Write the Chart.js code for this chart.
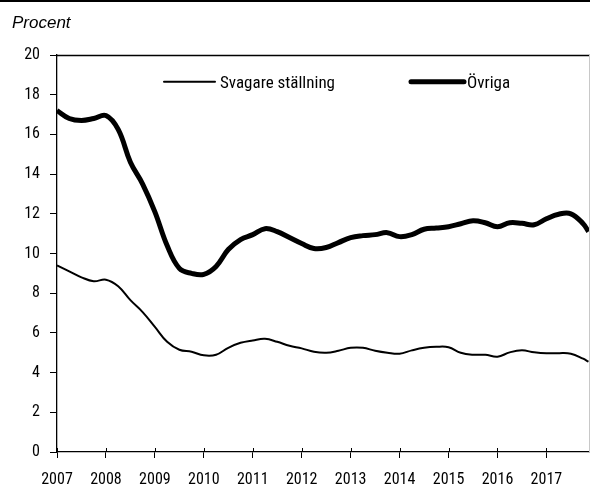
<!DOCTYPE html>
<html><head><meta charset="utf-8">
<script src="https://cdn.jsdelivr.net/npm/chart.js@4/dist/chart.umd.min.js"></script>
<style>
html,body{margin:0;padding:0;background:#fff;}
#wrap{position:relative;width:590px;height:486px;overflow:hidden;}
#topbar{position:absolute;left:0;top:0;width:590px;height:2px;background:#000;}
#unit{position:absolute;left:12px;top:13px;font:italic 17px "Liberation Sans",Arial,sans-serif;color:#000;line-height:20px;}
canvas{position:absolute;left:0;top:0;}
</style></head><body>
<div id="wrap"><canvas id="c" width="590" height="486"></canvas><div id="topbar"></div><div id="unit">Procent</div></div>
<script>
// Sample positions (decimal years)
const periods = [2007.00,2007.25,2007.50,2007.75,2008.00,2008.25,2008.50,2008.75,2009.00,2009.25,2009.50,2009.75,
  2010.00,2010.25,2010.50,2010.75,2011.00,2011.25,2011.50,2011.75,2012.00,2012.25,2012.50,2012.75,
  2013.00,2013.25,2013.50,2013.75,2014.00,2014.25,2014.50,2014.75,2015.00,2015.25,2015.50,2015.75,
  2016.00,2016.25,2016.50,2016.75,2017.00,2017.25,2017.50,2017.75,2017.86];
const svagare = [9.4,9.1,8.8,8.6,8.68,8.35,7.65,7.05,6.3,5.55,5.15,5.05,
  4.87,4.9,5.25,5.5,5.62,5.7,5.55,5.35,5.22,5.05,5.0,5.1,
  5.25,5.25,5.1,5.0,4.95,5.12,5.25,5.3,5.28,5.0,4.9,4.9,
  4.8,5.02,5.12,5.02,4.97,4.98,4.95,4.7,4.55];
const ovriga = [17.2,16.8,16.7,16.8,16.95,16.25,14.6,13.5,12.1,10.4,9.25,9.0,
  8.95,9.35,10.2,10.7,10.95,11.25,11.1,10.8,10.5,10.25,10.3,10.55,
  10.8,10.9,10.95,11.05,10.85,10.95,11.22,11.28,11.35,11.5,11.65,11.55,
  11.35,11.55,11.52,11.45,11.75,11.98,12.0,11.5,11.1];
const seriesNames = ["Svagare ställning","Övriga"];
const yearTicks = [2007,2008,2009,2010,2011,2012,2013,2014,2015,2016,2017];
const yTicks = [0,2,4,6,8,10,12,14,16,18,20];

const FONT = '"Roboto Condensed","Liberation Sans Narrow",Arial,sans-serif';

const framePlugin = {
  id:'frame',
  afterDraw(chart){
    const {ctx, chartArea:a} = chart;
    ctx.save();
    ctx.strokeStyle='#000'; ctx.lineWidth=1.3;
    ctx.beginPath(); ctx.moveTo(a.left, a.top+0.5); ctx.lineTo(590, a.top+0.5); ctx.stroke();
    ctx.strokeStyle='#c8c8c8'; ctx.lineWidth=1;
    ctx.beginPath(); ctx.moveTo(a.right+0.5, a.top); ctx.lineTo(a.right+0.5, a.bottom); ctx.stroke();
    const xs = chart.scales.x;
    ctx.strokeStyle='#000'; ctx.lineWidth=1;
    xs.ticks.forEach(t=>{
      const px = Math.round(xs.getPixelForValue(t.value))+0.5;
      ctx.beginPath(); ctx.moveTo(px, a.bottom-4); ctx.lineTo(px, a.bottom); ctx.stroke();
    });
    ctx.restore();
  }
};

const legendPlugin = {
  id:'inlineLegend',
  afterDraw(chart, args, opts){
    const ctx = chart.ctx;
    ctx.save();
    ctx.font = opts.fontSize + 'px ' + FONT;
    ctx.fillStyle = '#000';
    ctx.textBaseline = 'alphabetic';
    chart.data.datasets.forEach((ds,i)=>{
      const it = opts.items[i];
      ctx.strokeStyle = ds.borderColor;
      ctx.lineWidth = ds.borderWidth;
      ctx.lineCap = 'round';
      ctx.beginPath(); ctx.moveTo(it.x1, opts.lineY); ctx.lineTo(it.x2, opts.lineY); ctx.stroke();
      ctx.fillText(ds.label, it.tx, opts.textY);
    });
    ctx.restore();
  }
};

new Chart(document.getElementById('c'), {
  type:'line',
  data:{
    datasets:[
      {label:seriesNames[0], data:periods.map((p,i)=>({x:p,y:svagare[i]})), borderColor:'#000', borderWidth:2, pointRadius:0, fill:false},
      {label:seriesNames[1], data:periods.map((p,i)=>({x:p,y:ovriga[i]})), borderColor:'#000', borderWidth:5, pointRadius:0, fill:false}
    ]
  },
  options:{
    responsive:false, animation:false,
    layout:{padding:{top:55,right:1,left:0,bottom:0}},
    elements:{line:{tension:0.4, borderCapStyle:'butt', borderJoinStyle:'round'}},
    plugins:{
      legend:{display:false}, tooltip:{enabled:false},
      inlineLegend:{fontSize:17, lineY:81.7, textY:88.3,
        items:[{x1:164,x2:215,tx:220},{x1:411,x2:464,tx:467}]}
    },
    scales:{
      x:{type:'linear', min:2007, max:2017.87,
        afterBuildTicks(s){ s.ticks = yearTicks.map(v=>({value:v})); },
        afterFit(s){ s.height = 34; },
        ticks:{callback:v=>String(v), font:{family:FONT,size:16}, color:'#000', maxRotation:0, autoSkip:false, padding:12},
        grid:{display:true, drawOnChartArea:false, drawTicks:true, tickLength:6, color:'#000', lineWidth:1},
        border:{display:true, color:'#000', width:1.3}
      },
      y:{min:0, max:20,
        afterBuildTicks(s){ s.ticks = yTicks.map(v=>({value:v})); },
        afterFit(s){ s.width = 57; },
        ticks:{font:{family:FONT,size:16}, color:'#000', padding:10},
        grid:{display:true, drawOnChartArea:false, drawTicks:true, tickLength:7, color:'#000', lineWidth:1},
        border:{display:true, color:'#000', width:1.3}
      }
    }
  },
  plugins:[framePlugin, legendPlugin]
});
</script>
</body></html>
